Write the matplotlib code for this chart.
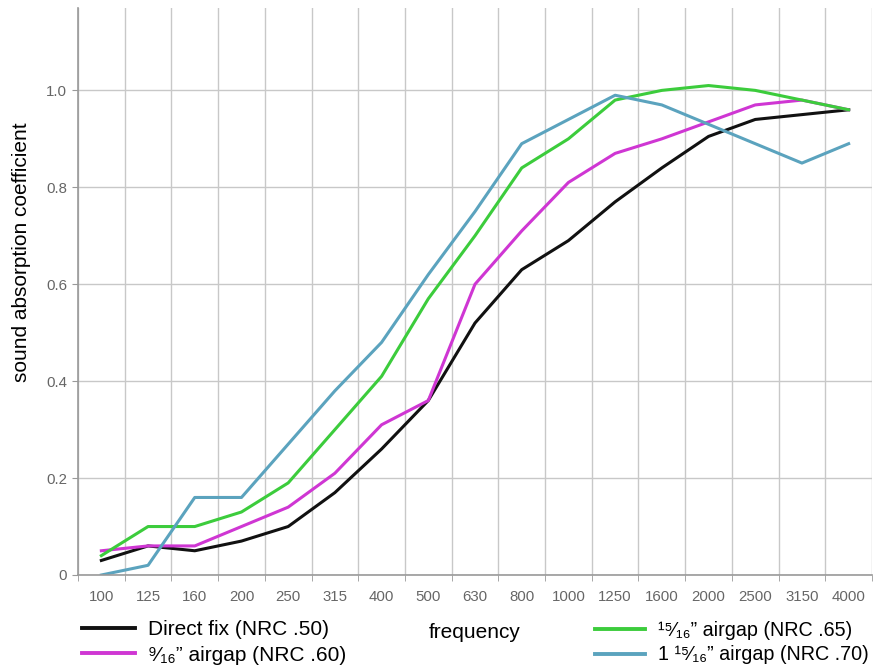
import numpy as np
import matplotlib
matplotlib.use("Agg")
import matplotlib.pyplot as plt
from matplotlib.ticker import FixedLocator, FuncFormatter

plt.rcParams['font.family'] = ['Liberation Sans', 'DejaVu Sans']

# frequency bands (Hz)
freqs = ["100", "125", "160", "200", "250", "315", "400", "500", "630",
         "800", "1000", "1250", "1600", "2000", "2500", "3150", "4000"]

# absorption coefficients
direct_fix = [0.03, 0.06, 0.05, 0.07, 0.10, 0.17, 0.26, 0.36, 0.52,
              0.63, 0.69, 0.77, 0.84, 0.905, 0.94, 0.95, 0.96]
gap_9_16 = [0.05, 0.06, 0.06, 0.10, 0.14, 0.21, 0.31, 0.36, 0.60,
            0.71, 0.81, 0.87, 0.90, 0.935, 0.97, 0.98, 0.96]
gap_15_16 = [0.04, 0.10, 0.10, 0.13, 0.19, 0.30, 0.41, 0.57, 0.70,
             0.84, 0.90, 0.98, 1.00, 1.01, 1.00, 0.98, 0.96]
gap_1_15_16 = [0.00, 0.02, 0.16, 0.16, 0.27, 0.38, 0.48, 0.62, 0.75,
               0.89, 0.94, 0.99, 0.97, 0.93, 0.89, 0.85, 0.89]

labels = ["Direct fix (NRC .50)",
          "\u2079\u2044\u2081\u2086\u201d airgap (NRC .60)",
          "\u00b9\u2075\u2044\u2081\u2086\u201d airgap (NRC .65)",
          "1 \u00b9\u2075\u2044\u2081\u2086\u201d airgap (NRC .70)"]
colors = ["#111111", "#cf36d3", "#3ccc3c", "#5ba3be"]

fig = plt.figure(figsize=(8.74, 6.71), dpi=100)
ax = fig.add_axes([78/874, 96/671, 794/874, 567/671])

x = np.arange(len(freqs))
series = [direct_fix, gap_9_16, gap_15_16, gap_1_15_16]
lines = []
for vals, c, lab in zip(series, colors, labels):
    ln, = ax.plot(x, vals, color=c, lw=2.2, label=lab)
    lines.append(ln)

ax.set_xlim(-0.5, len(freqs) - 0.5)
ax.set_ylim(0, 1.17)

ax.set_xticks(x)
ax.set_xticklabels(freqs)
ax.xaxis.set_minor_locator(FixedLocator(np.arange(-0.5, len(freqs), 1.0)))
ax.tick_params(axis='x', which='major', length=0, pad=11, labelsize=10.8, labelcolor='#666666')
ax.tick_params(axis='x', which='minor', length=4, color='#999999', direction='out')
ax.grid(True, axis='x', which='minor', color='#c8c8c8', lw=1)

ax.set_yticks([0, 0.2, 0.4, 0.6, 0.8, 1.0])
ax.yaxis.set_major_formatter(FuncFormatter(lambda v, p: "0" if v == 0 else f"{v:.1f}"))
ax.tick_params(axis='y', length=4, color='#999999', labelsize=10.8, labelcolor='#666666', pad=4)
ax.grid(True, axis='y', which='major', color='#c8c8c8', lw=1)
ax.set_axisbelow(True)

for s in ['top', 'right']:
    ax.spines[s].set_visible(False)
for s in ['left', 'bottom']:
    ax.spines[s].set_color('#999999')
    ax.spines[s].set_linewidth(1.2)

ax.set_xlabel("frequency", fontsize=15)
ax.xaxis.set_label_coords(0.5, -48/567)
ax.set_ylabel("sound absorption coefficient", fontsize=15)
ax.yaxis.set_label_coords(-47/794, (575 - 252)/567)

leg_kw = dict(loc='center left', frameon=False,
              handletextpad=0.62, labelspacing=0.3,
              borderpad=0, borderaxespad=0)
leg1 = fig.legend(handles=[lines[0], lines[1]], fontsize=15, handlelength=2.55,
                  bbox_to_anchor=(82/874, 1 - 642.5/671), **leg_kw)
leg2 = fig.legend(handles=[lines[2], lines[3]], fontsize=14.2, handlelength=2.55,
                  bbox_to_anchor=(595/874, 1 - 642.5/671), **leg_kw)
for leg in (leg1, leg2):
    for h in leg.legend_handles:
        h.set_linewidth(2.8)

fig.savefig("out.png", dpi=100)
